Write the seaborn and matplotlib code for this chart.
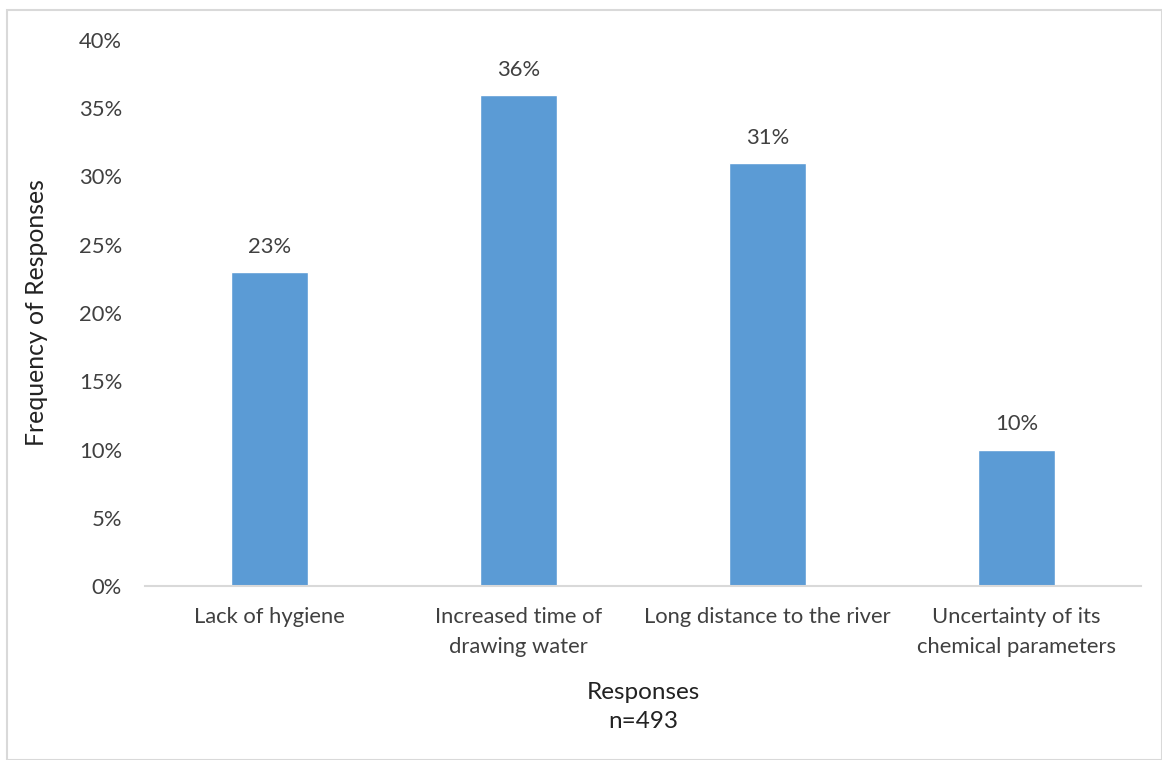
import matplotlib
matplotlib.use("Agg")
import matplotlib.pyplot as plt
import matplotlib.patches as mpatches
from matplotlib.ticker import PercentFormatter
import seaborn as sns
import pandas as pd

categories = ["Lack of hygiene", "Increased time of\ndrawing water",
              "Long distance to the river", "Uncertainty of its\nchemical parameters"]
values = [23, 36, 31, 10]
yticks = [0, 5, 10, 15, 20, 25, 30, 35, 40]

sns.set_theme(style="white")
plt.rcParams["font.family"] = ["Lato", "DejaVu Sans"]

df = pd.DataFrame({"Response": categories, "Percent": values})

fig = plt.figure(figsize=(11.62, 7.6), dpi=100)
ax = fig.add_axes([145 / 1162, 1 - 586 / 760, 996 / 1162, 546 / 760])

sns.barplot(data=df, x="Response", y="Percent", color="#5B9BD5",
            width=0.313, saturation=1, ax=ax)

text_col = "#404040"
ax.set_ylim(0, 40)
ax.set_xlim(-0.5, len(categories) - 0.5)
ax.set_yticks(yticks)
ax.yaxis.set_major_formatter(PercentFormatter(decimals=0))
ax.tick_params(axis="both", length=0, labelsize=15.8, labelcolor=text_col)
ax.tick_params(axis="y", pad=16.5)
ax.tick_params(axis="x", pad=15)
for lbl in ax.get_xticklabels():
    lbl.set_linespacing(1.65)

for i, v in enumerate(values):
    ax.text(i, v + 1.1, f"{v}%", ha="center", va="bottom", fontsize=15.8, color=text_col)

for side in ["top", "right", "left"]:
    ax.spines[side].set_visible(False)
ax.spines["bottom"].set_color("#D9D9D9")
ax.spines["bottom"].set_linewidth(1.5)

ax.set_ylabel("Frequency of Responses", fontsize=17.8, color="#222222", labelpad=22)
ax.set_xlabel("Responses\nn=493", fontsize=17.5, color="#222222", labelpad=18, linespacing=1.45)

fig.patches.append(mpatches.Rectangle((7 / 1162, 0), 1 - 7 / 1162, 1 - 10 / 760,
                                      transform=fig.transFigure, fill=False,
                                      edgecolor="#D9D9D9", linewidth=1.5))

fig.savefig("out.png", dpi=100)
